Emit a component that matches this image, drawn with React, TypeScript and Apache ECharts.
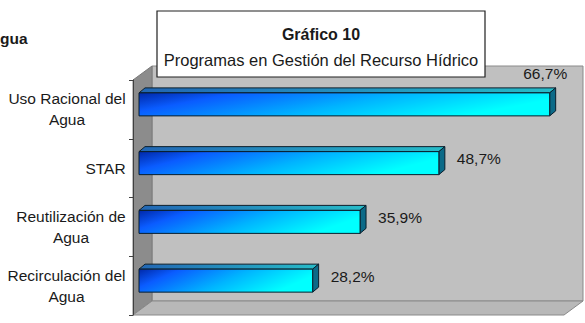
import React, { useEffect, useRef } from "react";
import * as echarts from "echarts";

const categories = [
  "Uso Racional del\nAgua",
  "STAR",
  "Reutilización de\nAgua",
  "Recirculación del\nAgua",
];
const values = [66.7, 48.7, 35.9, 28.2];
const axisMin = 0;
const axisMax = 70;
const titleText = "Gráfico 10";
const subtitleText = "Programas en Gestión del Recurso Hídrico";
const cutTitle = "gua";

const FONT = "'Liberation Sans', Arial, sans-serif";
const CAT_FONT_SIZE = 15.5;
// plot (front plane) layout
const L = 133, T = 80, W = 431, H = 235, DX = 19, DY = 14;

function fmt(v: number) {
  return v.toFixed(1).replace(".", ",") + "%";
}

function measure(text: string, font: string) {
  const cv = document.createElement("canvas");
  const ctx = cv.getContext("2d");
  if (!ctx) return text.length * 8;
  ctx.font = font;
  return ctx.measureText(text).width;
}

export default function App() {
  const ref = useRef<HTMLDivElement>(null);
  useEffect(() => {
    if (!ref.current) return;
    const chart = echarts.init(ref.current, undefined, { renderer: "svg" });
    const frontGrad = new echarts.graphic.LinearGradient(0, 0, 1, 0.3, [
      { offset: 0, color: "#0028a8" },
      { offset: 0.22, color: "#0a5cff" },
      { offset: 0.6, color: "#00b4ff" },
      { offset: 1, color: "#00ffff" },
    ]);
    const topGrad = new echarts.graphic.LinearGradient(0, 0, 1, 0, [
      { offset: 0, color: "#2266b4" },
      { offset: 1, color: "#26bcc8" },
    ]);
    const catFont = `${CAT_FONT_SIZE}px Liberation Sans`;
    const rich: Record<string, any> = {};
    categories.forEach((c, i) => {
      const w = Math.max(...c.split("\n").map((l) => measure(l, catFont)));
      rich["w" + i] = {
        width: Math.ceil(w),
        align: "center",
        fontSize: CAT_FONT_SIZE,
        fontFamily: FONT,
        color: "#1a1a1a",
        lineHeight: 21,
      };
    });
    const txt = (x: number, y: number, text: string, font: string, align: string, z = 20) => ({
      type: "text",
      x,
      y,
      z,
      style: {
        text,
        font,
        fill: "#1a1a1a",
        align,
        verticalAlign: "middle",
        textAlign: align,
        textVerticalAlign: "middle",
      },
    });
    chart.setOption({
      animation: false,
      grid: { left: L, top: T, width: W, height: H, containLabel: false },
      xAxis: {
        type: "value",
        min: axisMin,
        max: axisMax,
        show: false,
      },
      yAxis: {
        type: "category",
        data: categories,
        inverse: true,
        axisLine: { show: true, lineStyle: { color: "#404040", width: 1 } },
        axisTick: { show: true, length: 4, lineStyle: { color: "#404040" } },
        axisLabel: {
          fontSize: CAT_FONT_SIZE,
          fontFamily: FONT,
          color: "#1a1a1a",
          lineHeight: 21,
          margin: 7,
          align: "right",
          formatter: (value: string, index: number) =>
            value
              .split("\n")
              .map((l) => `{w${index}|${l}}`)
              .join("\n"),
          rich,
        },
        splitLine: { show: false },
        z: 5,
      },
      graphic: [
        {
          type: "rect",
          z: -10,
          shape: { x: L + DX, y: T - DY, width: W, height: H },
          style: { fill: "#c0c0c0", stroke: "#8a8a8a", lineWidth: 1 },
        },
        {
          type: "polygon",
          z: -9,
          shape: { points: [[L, T], [L + DX, T - DY], [L + DX, T - DY + H], [L, T + H]] },
          style: { fill: "#8c8c8c", stroke: "#7a7a7a", lineWidth: 1 },
        },
        {
          type: "polygon",
          z: -9,
          shape: {
            points: [[L, T + H], [L + DX, T + H - DY], [L + DX + W, T + H - DY], [L + W, T + H]],
          },
          style: { fill: "#b8b8b8", stroke: "#8a8a8a", lineWidth: 1 },
        },
        {
          type: "rect",
          z: 50,
          shape: { x: 157, y: 11, width: 328, height: 66 },
          style: { fill: "#ffffff", stroke: "#202020", lineWidth: 1.2 },
        },
        txt(321, 34, titleText, `bold 16px ${FONT}`, "center", 51),
        txt(321, 60, subtitleText, `16.5px ${FONT}`, "center", 51),
        txt(0, 38, cutTitle, `bold 15.5px ${FONT}`, "left", 51),
      ],
      series: [
        {
          type: "custom",
          coordinateSystem: "cartesian2d",
          encode: { x: 0, y: 1 },
          data: values.map((v, i) => [v, i]),
          z: 10,
          renderItem: (params: any, api: any) => {
            const v = api.value(0);
            const c = api.value(1);
            const p0 = api.coord([0, c]);
            const p1 = api.coord([v, c]);
            const sx = 6, sy = 5, bh = 23, ddx = 6, ddy = 5;
            const xl = p0[0] + sx;
            const xr = p1[0] + sx;
            const yt = p0[1] - sy - bh / 2;
            const yb = yt + bh;
            const stroke = "#0a1e2c";
            const label = fmt(v);
            const over = p1[0] + 24 + 46 > api.getWidth();
            const lx = over ? p1[0] + 23.5 : p1[0] + 24;
            const ly = over ? p0[1] - 36 : p0[1] - 9.5;
            return {
              type: "group",
              children: [
                {
                  type: "polygon",
                  shape: { points: [[xl, yt], [xr, yt], [xr + ddx, yt - ddy], [xl + ddx, yt - ddy]] },
                  style: { fill: topGrad, stroke, lineWidth: 1 },
                },
                {
                  type: "polygon",
                  shape: { points: [[xr, yt], [xr + ddx, yt - ddy], [xr + ddx, yb - ddy], [xr, yb]] },
                  style: { fill: "#0b6a88", stroke, lineWidth: 1 },
                },
                {
                  type: "rect",
                  shape: { x: xl, y: yt, width: xr - xl, height: bh },
                  style: { fill: frontGrad, stroke, lineWidth: 1 },
                },
                {
                  type: "text",
                  x: lx,
                  y: ly,
                  style: {
                    text: label,
                    font: `15.5px ${FONT}`,
                    fill: "#1a1a1a",
                    align: over ? "right" : "left",
                    verticalAlign: "middle",
                    textAlign: over ? "right" : "left",
                    textVerticalAlign: "middle",
                  },
                },
              ],
            };
          },
        },
      ],
    });
    return () => chart.dispose();
  }, []);
  return (
    <div
      ref={ref}
      style={{ position: "absolute", left: 0, top: 0, width: 585, height: 323, background: "#ffffff" }}
    />
  );
}
